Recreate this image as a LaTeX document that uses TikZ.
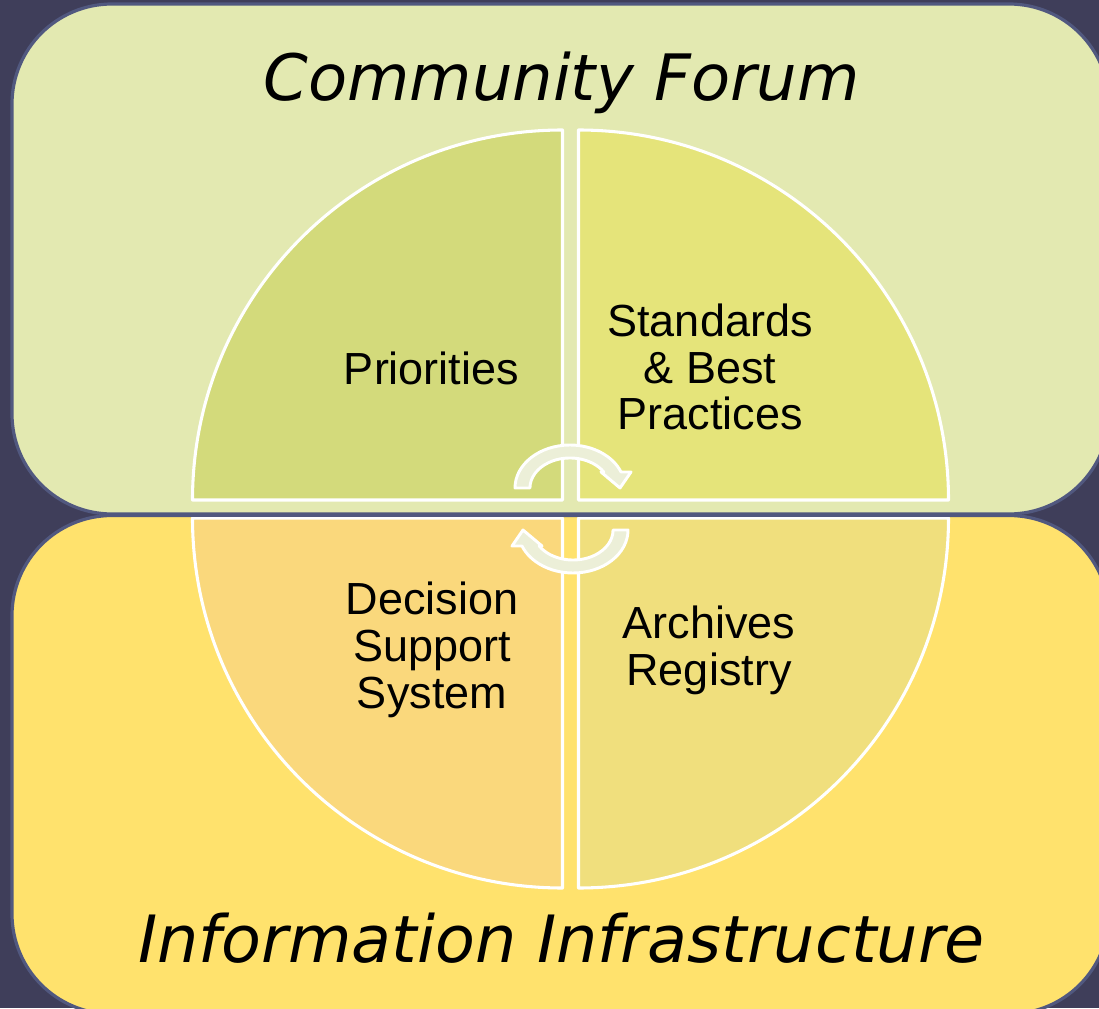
\documentclass[tikz,border=0pt]{standalone}
\usepackage{fontspec}
\setmainfont{Liberation Sans}
\newfontfamily\titlefont{DejaVu Sans}
\definecolor{bgdark}{HTML}{3F3E5A}
\definecolor{boxline}{HTML}{51587F}
\definecolor{topfill}{HTML}{E3E9B1}
\definecolor{botfill}{HTML}{FFE26D}
\definecolor{qtl}{HTML}{D3DA7B}
\definecolor{qtr}{HTML}{E5E47A}
\definecolor{qbl}{HTML}{FAD87C}
\definecolor{qbr}{HTML}{F0DF7D}
\definecolor{arrowfill}{HTML}{ECEFD8}
\tikzset{
  bandbox/.style={rounded corners=75, draw=boxline, line width=2.4pt},
  quad/.style={draw=white, line width=2.3pt, line join=round},
  cyclearrow/.style={fill=arrowfill, draw=white, line width=2.2pt, line join=round},
  qlabel/.style={anchor=base, align=center, inner sep=0pt, font=\fontsize{33.75}{34.9}\selectfont},
  tlabel/.style={anchor=base, inner sep=0pt, font=\titlefont\itshape\fontsize{48}{56}\selectfont},
}
\begin{document}
\begin{tikzpicture}[x=0.75pt, y=0.75pt]
\useasboundingbox (0,0) rectangle (1099,1008);
\clip (0,0) rectangle (1099,1008);
\fill[bgdark] (0,0) rectangle (1099,1008);
% bands
\path[bandbox, fill=topfill] (12,1004) rectangle (1109,494);
\path[bandbox, fill=botfill] (12,492.5) rectangle (1109,-6);
% quadrants
\path[quad, fill=qtl] (562.5,508) -- (192.5,508) arc[start angle=180, end angle=90, radius=370] -- cycle;
\path[quad, fill=qtr] (578.5,508) -- (578.5,878) arc[start angle=90, end angle=0, radius=370] -- cycle;
\path[quad, fill=qbl] (562.5,490) -- (192.5,490) arc[start angle=180, end angle=270, radius=370] -- cycle;
\path[quad, fill=qbr] (578.5,490) -- (948.5,490) arc[start angle=0, end angle=-90, radius=370] -- cycle;
% border of lower band over the quadrants
\draw[boxline, line width=2.6pt] (100,492.8) -- (1000,492.8);
% cycle arrows
\path[cyclearrow] (515,520) arc[start angle=180, end angle=21.9, x radius=55, y radius=43]
  -- (631,536) -- (620,520) -- (601,536) -- (603.8,536)
  arc[start angle=32.2, end angle=180, x radius=40, y radius=30] -- cycle;
\path[cyclearrow, rotate around={180:(571.5,499)}] (515,520) arc[start angle=180, end angle=21.9, x radius=55, y radius=43]
  -- (631,536) -- (620,520) -- (601,536) -- (603.8,536)
  arc[start angle=32.2, end angle=180, x radius=40, y radius=30] -- cycle;
% labels
\node[tlabel] (forum) at (561.5,907) {Community Forum};
\node[tlabel, font=\titlefont\itshape\fontsize{48.9}{56}\selectfont] (infra) at (561.5,46) {Information Infrastructure};
\node[qlabel] (prio) at (431.5,623) {Priorities};
\node[qlabel] (std) at (710,578) {Standards\\\& Best\\Practices};
\node[qlabel] (dss) at (432,300) {Decision\\Support\\System};
\node[qlabel] (arch) at (709,323) {Archives\\Registry};
\end{tikzpicture}
\end{document}
